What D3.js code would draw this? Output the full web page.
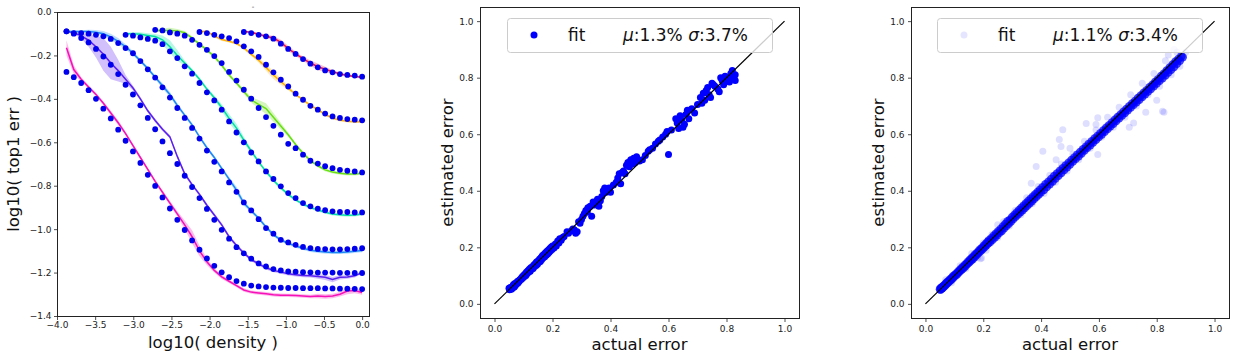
<!DOCTYPE html>
<html><head><meta charset="utf-8">
<script src="https://cdn.jsdelivr.net/npm/d3@7"></script>
<style>
body{margin:0;background:#fff}
svg{display:block}
text{font-family:"DejaVu Sans",sans-serif}
</style>
</head><body>
<svg id="c" width="1236" height="353"></svg>
<script>
// ---------- panel 1 data: x grid (log10 density) ----------
const logDensity = [-3.876,-3.780,-3.683,-3.586,-3.489,-3.392,-3.295,-3.198,-3.101,-3.004,-2.907,-2.810,-2.713,-2.617,-2.520,-2.423,-2.326,-2.229,-2.132,-2.035,-1.938,-1.841,-1.744,-1.647,-1.551,-1.454,-1.357,-1.260,-1.163,-1.066,-0.969,-0.872,-0.775,-0.678,-0.581,-0.485,-0.388,-0.291,-0.194,-0.097,0.000];

// fitted values (dots), aligned to the END of logDensity
const fitPink = [-0.276,-0.300,-0.327,-0.360,-0.400,-0.445,-0.490,-0.542,-0.593,-0.642,-0.695,-0.750,-0.801,-0.854,-0.905,-0.957,-1.004,-1.052,-1.095,-1.135,-1.169,-1.199,-1.221,-1.239,-1.251,-1.260,-1.264,-1.267,-1.269,-1.270,-1.271,-1.271,-1.272,-1.272,-1.272,-1.273,-1.273,-1.274,-1.274,-1.275,-1.276];
const fitPurple = [-0.089,-0.100,-0.120,-0.140,-0.170,-0.205,-0.243,-0.286,-0.335,-0.380,-0.430,-0.488,-0.540,-0.596,-0.650,-0.700,-0.754,-0.806,-0.857,-0.907,-0.957,-1.003,-1.044,-1.083,-1.112,-1.136,-1.158,-1.172,-1.184,-1.190,-1.195,-1.196,-1.198,-1.199,-1.200,-1.200,-1.200,-1.201,-1.201,-1.202,-1.202];
const fitBlue = [-0.089,-0.097,-0.097,-0.100,-0.105,-0.112,-0.124,-0.143,-0.166,-0.190,-0.226,-0.264,-0.302,-0.347,-0.394,-0.442,-0.488,-0.534,-0.583,-0.638,-0.690,-0.734,-0.785,-0.828,-0.877,-0.914,-0.954,-0.995,-1.021,-1.049,-1.061,-1.072,-1.082,-1.087,-1.091,-1.092,-1.093,-1.093,-1.092,-1.090,-1.088];
const fitTeal = [-0.105,-0.109,-0.117,-0.124,-0.132,-0.148,-0.181,-0.212,-0.250,-0.284,-0.327,-0.370,-0.407,-0.450,-0.504,-0.555,-0.600,-0.647,-0.688,-0.734,-0.769,-0.803,-0.834,-0.857,-0.880,-0.895,-0.906,-0.913,-0.918,-0.921,-0.921,-0.923,-0.923];
const fitGreen = [-0.082,-0.085,-0.094,-0.100,-0.109,-0.128,-0.151,-0.174,-0.203,-0.235,-0.276,-0.316,-0.358,-0.399,-0.442,-0.484,-0.524,-0.565,-0.607,-0.627,-0.657,-0.685,-0.698,-0.710,-0.719,-0.727,-0.731,-0.734,-0.739];
const fitOrange = [-0.092,-0.097,-0.105,-0.112,-0.120,-0.135,-0.158,-0.181,-0.207,-0.243,-0.278,-0.312,-0.343,-0.376,-0.404,-0.432,-0.450,-0.468,-0.481,-0.488,-0.493,-0.496,-0.499];
const fitRed = [-0.092,-0.097,-0.105,-0.112,-0.123,-0.146,-0.170,-0.193,-0.217,-0.238,-0.255,-0.269,-0.278,-0.286,-0.290,-0.293,-0.298];

// measured values (lines)
const actualPink = [-0.165,-0.265,-0.310,-0.345,-0.380,-0.420,-0.465,-0.510,-0.560,-0.615,-0.670,-0.725,-0.780,-0.830,-0.880,-0.930,-0.980,-1.035,-1.100,-1.150,-1.190,-1.220,-1.240,-1.260,-1.280,-1.290,-1.294,-1.298,-1.302,-1.304,-1.305,-1.306,-1.308,-1.310,-1.308,-1.310,-1.308,-1.300,-1.285,-1.283,-1.292];
const actualPurple = [-0.090,-0.095,-0.110,-0.130,-0.160,-0.195,-0.235,-0.270,-0.310,-0.350,-0.400,-0.455,-0.500,-0.540,-0.575,-0.665,-0.745,-0.795,-0.840,-0.890,-0.935,-0.980,-1.035,-1.075,-1.110,-1.140,-1.160,-1.178,-1.190,-1.198,-1.205,-1.210,-1.213,-1.215,-1.218,-1.222,-1.232,-1.222,-1.220,-1.215,-1.200];
const actualBlue = [-0.090,-0.090,-0.090,-0.090,-0.093,-0.100,-0.115,-0.135,-0.160,-0.190,-0.225,-0.260,-0.300,-0.340,-0.380,-0.430,-0.475,-0.520,-0.575,-0.625,-0.670,-0.720,-0.770,-0.820,-0.880,-0.915,-0.950,-0.990,-1.025,-1.050,-1.065,-1.078,-1.088,-1.097,-1.102,-1.105,-1.107,-1.107,-1.105,-1.102,-1.098];
const actualTeal = [-0.100,-0.100,-0.103,-0.108,-0.113,-0.128,-0.160,-0.200,-0.235,-0.270,-0.310,-0.355,-0.395,-0.440,-0.490,-0.535,-0.590,-0.640,-0.690,-0.735,-0.775,-0.810,-0.840,-0.865,-0.885,-0.900,-0.912,-0.922,-0.930,-0.934,-0.936,-0.935,-0.930];
const actualGreen = [-0.085,-0.085,-0.085,-0.088,-0.095,-0.120,-0.148,-0.175,-0.205,-0.245,-0.290,-0.327,-0.366,-0.405,-0.425,-0.445,-0.485,-0.525,-0.565,-0.610,-0.650,-0.685,-0.708,-0.727,-0.737,-0.743,-0.746,-0.746,-0.743];
const actualOrange = [-0.090,-0.090,-0.110,-0.127,-0.135,-0.145,-0.165,-0.195,-0.222,-0.255,-0.290,-0.320,-0.350,-0.380,-0.405,-0.430,-0.450,-0.472,-0.488,-0.498,-0.503,-0.505,-0.505];
const actualRed = [-0.090,-0.093,-0.103,-0.112,-0.120,-0.140,-0.168,-0.193,-0.215,-0.235,-0.252,-0.264,-0.275,-0.285,-0.292,-0.297,-0.300];

// half-width of shaded bands around the measured lines
const spreadPink = [0.035,0.02,0.01,0.008,0.008,0.008,0.01,0.01,0.008,0.008,0.008,0.008,0.008,0.008,0.01,0.012,0.02,0.03,0.025,0.015,0.01,0.01,0.008,0.008,0.008,0.008,0.008,0.008,0.008,0.008,0.008,0.008,0.008,0.008,0.01,0.01,0.01,0.01,0.015,0.012,0.01];
const spreadPurple = [0.004,0.006,0.012,0.03,0.05,0.075,0.075,0.05,0.02,0.01,0.008,0.008,0.008,0.008,0.008,0.008,0.008,0.008,0.008,0.008,0.008,0.008,0.008,0.008,0.008,0.008,0.008,0.008,0.008,0.008,0.008,0.008,0.008,0.008,0.01,0.012,0.012,0.01,0.008,0.008,0.006];
const spreadBlue = [0.004,0.005,0.006,0.008,0.01,0.012,0.015,0.015,0.012,0.01,0.008,0.008,0.008,0.012,0.012,0.01,0.008,0.008,0.008,0.008,0.008,0.008,0.01,0.015,0.012,0.008,0.008,0.008,0.008,0.008,0.008,0.008,0.008,0.008,0.008,0.008,0.008,0.008,0.008,0.008,0.008];
const spreadTeal = [0.005,0.008,0.01,0.01,0.012,0.02,0.03,0.025,0.012,0.008,0.008,0.008,0.01,0.015,0.02,0.02,0.015,0.01,0.008,0.008,0.008,0.008,0.008,0.007,0.007,0.007,0.007,0.007,0.007,0.007,0.007,0.007,0.007];
const spreadGreen = [0.005,0.01,0.012,0.01,0.008,0.008,0.008,0.008,0.008,0.008,0.008,0.008,0.01,0.012,0.02,0.025,0.02,0.015,0.01,0.007,0.007,0.007,0.007,0.007,0.007,0.007,0.007,0.007,0.007];
const spreadOrange = [0.004,0.005,0.006,0.006,0.006,0.006,0.006,0.008,0.01,0.015,0.018,0.015,0.01,0.006,0.006,0.006,0.006,0.006,0.006,0.006,0.006,0.006,0.006];
const spreadRed = [0.004,0.005,0.006,0.008,0.01,0.012,0.012,0.01,0.01,0.012,0.015,0.012,0.008,0.006,0.005,0.005,0.005];

const curveColors = ["#f510b8","#5a1ef0","#1a88f5","#00e0a0","#66e010","#ffb000","#f01040"];

const xTicks1 = [-4.0,-3.5,-3.0,-2.5,-2.0,-1.5,-1.0,-0.5,0.0];
const yTicks1 = [0.0,-0.2,-0.4,-0.6,-0.8,-1.0,-1.2,-1.4];
const ticks23 = [0.0,0.2,0.4,0.6,0.8,1.0];

// ---------- panel 2 data: [actual error, estimated error] ----------
const points2 = [[0.050,0.055],[0.052,0.050],[0.055,0.058],[0.058,0.052],[0.060,0.060],[0.062,0.055],[0.065,0.068],[0.068,0.060],[0.070,0.072],[0.072,0.065],[0.075,0.070],[0.078,0.078],[0.080,0.073],[0.083,0.082],[0.085,0.079],[0.088,0.085],[0.090,0.088],[0.093,0.087],[0.095,0.095],[0.098,0.092],[0.100,0.100],[0.103,0.097],[0.105,0.106],[0.108,0.100],[0.110,0.112],[0.113,0.107],[0.115,0.117],[0.118,0.113],[0.120,0.122],[0.123,0.115],[0.125,0.128],[0.128,0.122],[0.130,0.130],[0.133,0.125],[0.135,0.137],[0.138,0.132],[0.140,0.142],[0.143,0.136],[0.145,0.148],[0.148,0.140],[0.150,0.152],[0.153,0.147],[0.155,0.158],[0.158,0.150],[0.160,0.163],[0.163,0.157],[0.165,0.170],[0.168,0.163],[0.170,0.175],[0.173,0.167],[0.175,0.180],[0.178,0.172],[0.180,0.185],[0.183,0.176],[0.185,0.190],[0.188,0.182],[0.190,0.195],[0.193,0.188],[0.195,0.200],[0.198,0.192],[0.200,0.205],[0.205,0.198],[0.210,0.212],[0.213,0.205],[0.218,0.222],[0.222,0.215],[0.225,0.230],[0.230,0.225],[0.235,0.235],[0.240,0.238],[0.250,0.255],[0.255,0.250],[0.265,0.258],[0.270,0.265],[0.275,0.262],[0.280,0.250],[0.285,0.255],[0.290,0.290],[0.295,0.285],[0.300,0.298],[0.305,0.310],[0.310,0.320],[0.315,0.330],[0.320,0.325],[0.322,0.340],[0.330,0.345],[0.335,0.310],[0.340,0.360],[0.345,0.350],[0.350,0.360],[0.355,0.370],[0.360,0.345],[0.365,0.365],[0.370,0.380],[0.375,0.400],[0.380,0.410],[0.385,0.395],[0.390,0.400],[0.395,0.410],[0.400,0.395],[0.410,0.420],[0.420,0.430],[0.425,0.445],[0.430,0.460],[0.435,0.425],[0.440,0.465],[0.445,0.470],[0.450,0.460],[0.455,0.490],[0.460,0.500],[0.465,0.485],[0.470,0.510],[0.475,0.495],[0.480,0.515],[0.485,0.500],[0.490,0.520],[0.500,0.505],[0.510,0.510],[0.520,0.525],[0.530,0.540],[0.535,0.545],[0.545,0.550],[0.555,0.565],[0.565,0.575],[0.570,0.580],[0.580,0.590],[0.590,0.600],[0.595,0.610],[0.600,0.528],[0.610,0.615],[0.625,0.655],[0.630,0.640],[0.635,0.620],[0.640,0.665],[0.645,0.650],[0.650,0.625],[0.655,0.635],[0.660,0.670],[0.665,0.685],[0.670,0.655],[0.680,0.690],[0.690,0.675],[0.700,0.705],[0.710,0.730],[0.715,0.710],[0.720,0.745],[0.725,0.720],[0.730,0.755],[0.735,0.765],[0.740,0.740],[0.745,0.730],[0.750,0.780],[0.755,0.775],[0.760,0.770],[0.770,0.760],[0.775,0.750],[0.780,0.800],[0.785,0.790],[0.790,0.775],[0.795,0.805],[0.800,0.790],[0.805,0.800],[0.810,0.785],[0.815,0.815],[0.820,0.825],[0.825,0.800],[0.830,0.790],[0.830,0.810]];

// ---------- panel 3 data: [actual error, estimated error] ----------
// dense core of the cloud (thousands of overlapping points in the original)
const points3Dense = [[0.050,0.052],[0.052,0.050],[0.053,0.056],[0.055,0.053],[0.056,0.058],[0.058,0.055],[0.060,0.061],[0.061,0.058],[0.063,0.064],[0.065,0.062],[0.067,0.068],[0.069,0.066],[0.071,0.072],[0.073,0.070],[0.075,0.077],[0.077,0.074],[0.080,0.081],[0.082,0.079],[0.085,0.086],[0.087,0.083],[0.090,0.091],[0.092,0.088],[0.095,0.097],[0.097,0.093],[0.100,0.101],[0.103,0.099],[0.106,0.107],[0.109,0.104],[0.112,0.113],[0.115,0.111],[0.118,0.119],[0.121,0.117],[0.124,0.125],[0.127,0.122],[0.130,0.131],[0.133,0.128],[0.136,0.138],[0.139,0.134],[0.142,0.143],[0.145,0.141],[0.148,0.150],[0.151,0.146],[0.154,0.156],[0.157,0.152],[0.160,0.162],[0.163,0.158],[0.166,0.168],[0.169,0.164],[0.172,0.175],[0.175,0.171],[0.178,0.180],[0.181,0.177],[0.184,0.187],[0.187,0.183],[0.190,0.193],[0.193,0.189],[0.196,0.199],[0.199,0.195],[0.202,0.206],[0.205,0.201],[0.208,0.212],[0.211,0.207],[0.214,0.219],[0.217,0.213],[0.220,0.225],[0.224,0.219],[0.228,0.232],[0.232,0.227],[0.236,0.241],[0.240,0.235],[0.244,0.249],[0.248,0.243],[0.252,0.257],[0.256,0.251],[0.260,0.265],[0.264,0.258],[0.268,0.274],[0.272,0.267],[0.276,0.283],[0.280,0.275],[0.284,0.292],[0.288,0.283],[0.292,0.298],[0.296,0.291],[0.300,0.307],[0.304,0.300],[0.308,0.315],[0.312,0.308],[0.316,0.323],[0.320,0.316],[0.324,0.332],[0.328,0.324],[0.332,0.340],[0.336,0.331],[0.340,0.348],[0.344,0.339],[0.348,0.356],[0.352,0.347],[0.356,0.364],[0.360,0.355],[0.364,0.372],[0.368,0.363],[0.372,0.380],[0.376,0.371],[0.380,0.388],[0.384,0.379],[0.388,0.396],[0.392,0.387],[0.396,0.404],[0.400,0.395],[0.405,0.413],[0.410,0.403],[0.415,0.423],[0.420,0.413],[0.425,0.432],[0.430,0.423],[0.435,0.442],[0.440,0.433],[0.445,0.452],[0.450,0.443],[0.455,0.461],[0.460,0.453],[0.465,0.471],[0.470,0.463],[0.475,0.480],[0.480,0.473],[0.485,0.490],[0.490,0.483],[0.495,0.499],[0.500,0.493],[0.505,0.509],[0.510,0.503],[0.515,0.518],[0.520,0.513],[0.525,0.528],[0.530,0.522],[0.535,0.537],[0.540,0.532],[0.545,0.547],[0.550,0.542],[0.555,0.556],[0.560,0.552],[0.565,0.566],[0.570,0.561],[0.575,0.575],[0.580,0.571],[0.585,0.585],[0.590,0.580],[0.595,0.594],[0.600,0.590],[0.605,0.604],[0.610,0.599],[0.615,0.613],[0.620,0.609],[0.625,0.623],[0.630,0.618],[0.635,0.632],[0.640,0.628],[0.645,0.642],[0.650,0.637],[0.655,0.651],[0.660,0.647],[0.665,0.661],[0.670,0.656],[0.675,0.670],[0.680,0.666],[0.685,0.680],[0.690,0.675],[0.695,0.689],[0.700,0.685],[0.705,0.699],[0.710,0.694],[0.715,0.709],[0.720,0.704],[0.725,0.718],[0.730,0.713],[0.735,0.728],[0.740,0.722],[0.745,0.737],[0.750,0.732],[0.755,0.747],[0.760,0.741],[0.765,0.756],[0.770,0.751],[0.775,0.766],[0.780,0.760],[0.785,0.775],[0.790,0.770],[0.795,0.786],[0.800,0.779],[0.805,0.795],[0.810,0.789],[0.815,0.806],[0.820,0.798],[0.825,0.815],[0.830,0.808],[0.835,0.826],[0.840,0.818],[0.845,0.836],[0.850,0.828],[0.855,0.847],[0.860,0.838],[0.865,0.857],[0.870,0.849],[0.875,0.866],[0.880,0.860],[0.885,0.876],[0.890,0.872]];
// faint scattered points and outliers
const points3Sparse = [[0.070,0.085],[0.090,0.075],[0.120,0.135],[0.140,0.125],[0.160,0.178],[0.180,0.165],[0.200,0.215],[0.210,0.190],[0.190,0.160],[0.230,0.245],[0.250,0.235],[0.270,0.290],[0.290,0.275],[0.310,0.330],[0.330,0.315],[0.350,0.375],[0.370,0.355],[0.390,0.415],[0.410,0.390],[0.430,0.455],[0.450,0.430],[0.470,0.495],[0.490,0.470],[0.510,0.530],[0.530,0.510],[0.550,0.575],[0.570,0.550],[0.590,0.615],[0.610,0.590],[0.630,0.660],[0.650,0.625],[0.670,0.695],[0.690,0.660],[0.710,0.740],[0.730,0.700],[0.750,0.780],[0.770,0.740],[0.790,0.815],[0.810,0.770],[0.830,0.860],[0.850,0.810],[0.870,0.890],[0.880,0.840],[0.900,0.890],[0.860,0.900],[0.840,0.880],[0.762,0.678],[0.820,0.681],[0.825,0.678],[0.705,0.625],[0.596,0.658],[0.590,0.634],[0.556,0.638],[0.596,0.528],[0.475,0.616],[0.463,0.581],[0.469,0.557],[0.406,0.540],[0.383,0.486],[0.366,0.427],[0.452,0.510],[0.194,0.162],[0.720,0.640],[0.800,0.720],[0.500,0.550],[0.250,0.280]];

const legend2 = {label:"fit", mu:"1.3%", sigma:"3.7%"};
const legend3 = {label:"fit", mu:"1.1%", sigma:"3.4%"};

// ---------- drawing ----------
const svg = d3.select("#c");
svg.append("rect").attr("width",1236).attr("height",353).attr("fill","#fff");
const fmt = d3.format(".1f");
const TICKFS = 9, LABELFS = 16.5;

function styleAxis(g){
  g.select(".domain").remove();
  g.selectAll(".tick line").attr("stroke","#222").attr("stroke-width",0.8);
  g.selectAll(".tick text").attr("fill","#222").attr("font-size",TICKFS).attr("font-family","DejaVu Sans");
}
function frame(x0,y0,x1,y1){
  svg.append("rect").attr("x",x0+0.5).attr("y",y0+0.5).attr("width",x1-x0).attr("height",y1-y0)
    .attr("fill","none").attr("stroke","#222").attr("stroke-width",1);
}

// Panel 1
(function(){
  const L=57,R=369,T=12,B=316;
  const x = d3.scaleLinear([-4.0,0.09],[L,R]);
  const y = d3.scaleLinear([-1.4,0],[B,T]);
  const g = svg.append("g");
  const curves = [
    {fit:fitPink, act:actualPink, sp:spreadPink},
    {fit:fitPurple, act:actualPurple, sp:spreadPurple},
    {fit:fitBlue, act:actualBlue, sp:spreadBlue},
    {fit:fitTeal, act:actualTeal, sp:spreadTeal},
    {fit:fitGreen, act:actualGreen, sp:spreadGreen},
    {fit:fitOrange, act:actualOrange, sp:spreadOrange},
    {fit:fitRed, act:actualRed, sp:spreadRed}
  ].map((c,i)=>{
    const off = logDensity.length - c.fit.length;
    return {color:curveColors[i], rows:c.fit.map((f,j)=>({x:logDensity[off+j], fit:f, act:c.act[j], sp:c.sp[j]}))};
  });
  const area = d3.area().x(d=>x(d.x)).y0(d=>y(d.act-d.sp)).y1(d=>y(d.act+d.sp));
  const line = d3.line().x(d=>x(d.x)).y(d=>y(d.act));
  curves.forEach(c=>{
    g.append("path").attr("d",area(c.rows)).attr("fill",c.color).attr("fill-opacity",0.28).attr("stroke","none");
  });
  curves.forEach(c=>{
    g.append("path").attr("d",line(c.rows)).attr("fill","none").attr("stroke",c.color).attr("stroke-width",1.5);
  });
  curves.forEach(c=>{
    g.selectAll(null).data(c.rows).enter().append("circle")
      .attr("cx",d=>x(d.x)).attr("cy",d=>y(d.fit)).attr("r",2.9).attr("fill","#0000ee");
  });
  frame(L,T,R,B);
  const ax = svg.append("g").attr("transform",`translate(0,${B+0.5})`)
    .call(d3.axisBottom(x).tickValues(xTicks1).tickFormat(fmt).tickSize(3.5).tickPadding(2));
  styleAxis(ax);
  const ay = svg.append("g").attr("transform",`translate(${L+0.5},0)`)
    .call(d3.axisLeft(y).tickValues(yTicks1).tickFormat(fmt).tickSize(3.5).tickPadding(2.5));
  styleAxis(ay);
  svg.append("text").attr("x",(L+R)/2).attr("y",347.5).attr("text-anchor","middle").attr("font-size",LABELFS).attr("fill","#111").text("log10( density )");
  svg.append("text").attr("transform",`translate(19,${(T+B)/2}) rotate(-90)`).attr("text-anchor","middle").attr("font-size",LABELFS).attr("fill","#111").text("log10( top1 err )");
  svg.append("text").attr("x",253).attr("y",9).attr("text-anchor","middle").attr("font-size",7).attr("fill","#333").text("-");
})();

function scatterPanel(L,R,T,B,layers,legend,legL,legR,legOpacity){
  const x = d3.scaleLinear([-0.05,1.05],[L,R]);
  const y = d3.scaleLinear([-0.05,1.05],[B,T]);
  const g = svg.append("g");
  layers.forEach(ly=>{
    g.selectAll(null).data(ly.pts).enter().append("circle")
      .attr("cx",d=>x(d[0])).attr("cy",d=>y(d[1])).attr("r",ly.r)
      .attr("fill","#0000ff").attr("fill-opacity",ly.op);
  });
  g.append("line").attr("x1",x(0)).attr("y1",y(0)).attr("x2",x(1)).attr("y2",y(1))
    .attr("stroke","#000").attr("stroke-width",1.2);
  frame(L,T,R,B);
  const ax = svg.append("g").attr("transform",`translate(0,${B+0.5})`)
    .call(d3.axisBottom(x).tickValues(ticks23).tickFormat(fmt).tickSize(3.5).tickPadding(3.5));
  styleAxis(ax);
  const ay = svg.append("g").attr("transform",`translate(${L+0.5},0)`)
    .call(d3.axisLeft(y).tickValues(ticks23).tickFormat(fmt).tickSize(3.5).tickPadding(3.5));
  styleAxis(ay);
  svg.append("text").attr("x",(L+R)/2).attr("y",350).attr("text-anchor","middle").attr("font-size",LABELFS).attr("fill","#111").text("actual error");
  svg.append("text").attr("transform",`translate(${L-27},${(T+B)/2}) rotate(-90)`).attr("text-anchor","middle").attr("font-size",LABELFS).attr("fill","#111").text("estimated error");
  // legend
  const lg = svg.append("g");
  lg.append("rect").attr("x",legL+0.5).attr("y",18.5).attr("width",legR-legL).attr("height",34).attr("rx",3)
    .attr("fill","#fff").attr("fill-opacity",0.8).attr("stroke","#cccccc").attr("stroke-width",1);
  lg.append("circle").attr("cx",legL+27).attr("cy",35).attr("r",3.5).attr("fill","#0000ff").attr("fill-opacity",legOpacity);
  lg.append("text").attr("x",legL+61).attr("y",41).attr("font-size",17).attr("fill","#111").text(legend.label);
  const t = lg.append("text").attr("x",legL+116).attr("y",41).attr("font-size",17).attr("fill","#111");
  t.append("tspan").attr("font-style","italic").text("μ");
  t.append("tspan").text(":"+legend.mu+" ");
  t.append("tspan").attr("font-style","italic").text("σ");
  t.append("tspan").text(":"+legend.sigma);
}
scatterPanel(480,799,7,318,[{pts:points2,r:3.5,op:1}],legend2,507,772,1);
scatterPanel(911,1229,7,318,[{pts:points3Sparse,r:3.5,op:0.13},{pts:points3Dense,r:4.2,op:0.75}],legend3,937,1202,0.1);
</script>
</body></html>
